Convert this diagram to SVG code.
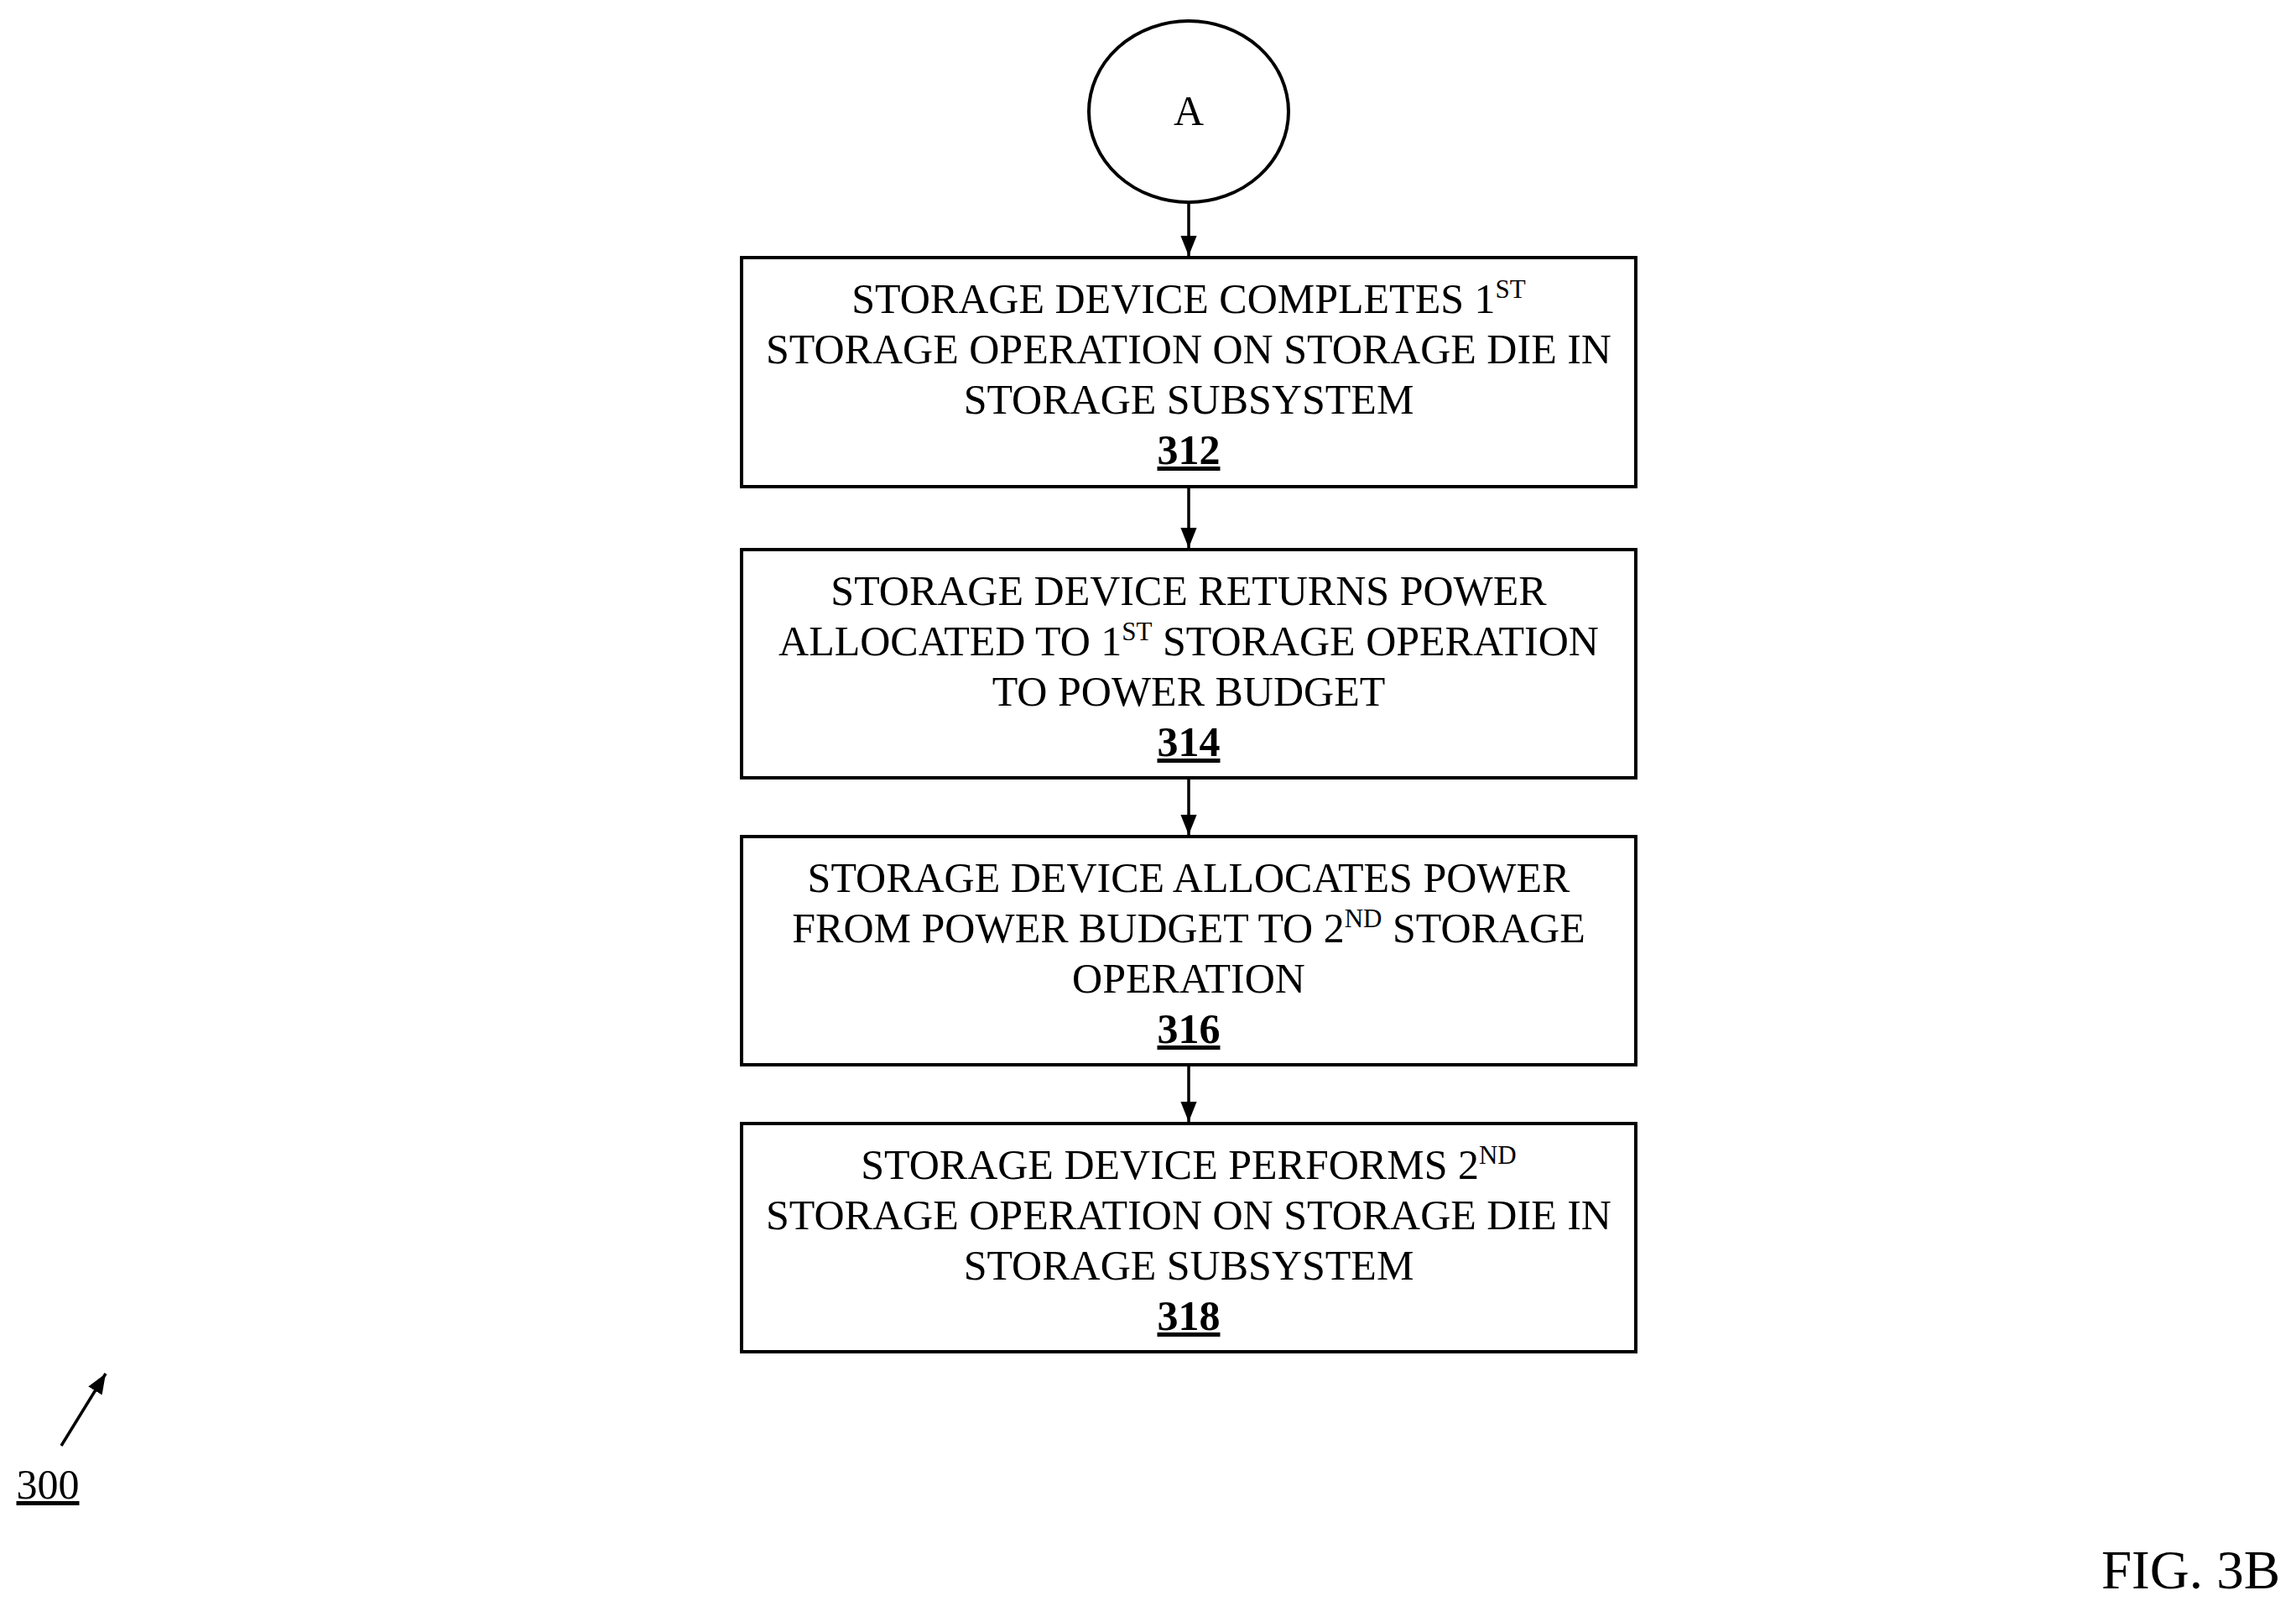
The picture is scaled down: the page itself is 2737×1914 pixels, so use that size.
<svg xmlns="http://www.w3.org/2000/svg" width="2737" height="1914" viewBox="0 0 2737 1914">
<defs>
<style>
text{font-family:"Liberation Serif","Times New Roman",serif;font-size:50px;fill:#000;text-anchor:middle}
.box{fill:#fff;stroke:#000;stroke-width:4}
.num{font-weight:bold;text-decoration:underline}
.sup{font-size:31px}
.c{stroke:#000;stroke-width:3.5;fill:none}
</style>
<marker id="ah2" viewBox="0 0 10 10" refX="10" refY="5" markerWidth="24" markerHeight="24" markerUnits="userSpaceOnUse" orient="auto"><path d="M0,1L10,5L0,9z" fill="#000"/></marker>
</defs>
<rect width="2737" height="1914" fill="#fff"/>
<g id="connectors">
<line class="c" x1="1417" y1="241" x2="1417" y2="305" marker-end="url(#ah2)"/>
<line class="c" x1="1417" y1="582" x2="1417" y2="653" marker-end="url(#ah2)"/>
<line class="c" x1="1417" y1="929" x2="1417" y2="995" marker-end="url(#ah2)"/>
<line class="c" x1="1417" y1="1271" x2="1417" y2="1337" marker-end="url(#ah2)"/>
<line class="c" x1="73" y1="1723" x2="126" y2="1637" marker-end="url(#ah2)"/>
</g>
<g id="A"><ellipse cx="1417" cy="133" rx="119" ry="108" class="box"/><text x="1417" y="149">A</text></g>
<g id="n312"><rect class="box" x="884" y="307" width="1066" height="273"/>
<text x="1417" y="373">STORAGE DEVICE COMPLETES 1<tspan class="sup" dy="-18">ST</tspan></text>
<text x="1417" y="433">STORAGE OPERATION ON STORAGE DIE IN</text>
<text x="1417" y="493">STORAGE SUBSYSTEM</text>
<text x="1417" y="553" class="num">312</text></g>
<g id="n314"><rect class="box" x="884" y="655" width="1066" height="272"/>
<text x="1417" y="721">STORAGE DEVICE RETURNS POWER</text>
<text x="1417" y="781">ALLOCATED TO 1<tspan class="sup" dy="-18">ST</tspan><tspan dy="18"> STORAGE OPERATION</tspan></text>
<text x="1417" y="841">TO POWER BUDGET</text>
<text x="1417" y="901" class="num">314</text></g>
<g id="n316"><rect class="box" x="884" y="997" width="1066" height="272"/>
<text x="1417" y="1063">STORAGE DEVICE ALLOCATES POWER</text>
<text x="1417" y="1123">FROM POWER BUDGET TO 2<tspan class="sup" dy="-18">ND</tspan><tspan dy="18"> STORAGE</tspan></text>
<text x="1417" y="1183">OPERATION</text>
<text x="1417" y="1243" class="num">316</text></g>
<g id="n318"><rect class="box" x="884" y="1339" width="1066" height="272"/>
<text x="1417" y="1405">STORAGE DEVICE PERFORMS 2<tspan class="sup" dy="-18">ND</tspan></text>
<text x="1417" y="1465">STORAGE OPERATION ON STORAGE DIE IN</text>
<text x="1417" y="1525">STORAGE SUBSYSTEM</text>
<text x="1417" y="1585" class="num">318</text></g>
<g id="ref300"><text x="57" y="1786" style="text-decoration:underline">300</text></g>
<g id="fig"><text x="2718" y="1893" style="font-size:65px;text-anchor:end">FIG. 3B</text></g>
</svg>
